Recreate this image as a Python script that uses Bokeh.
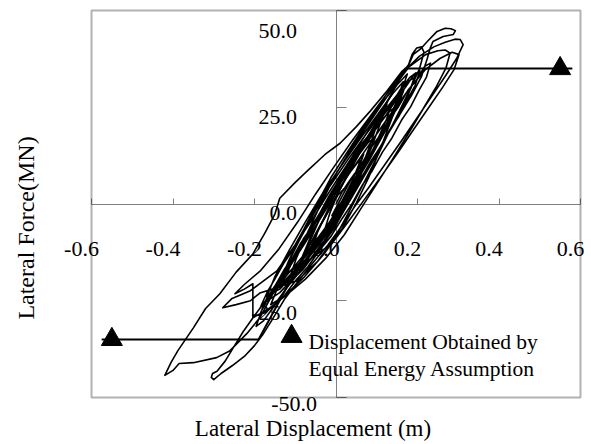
import math
from bokeh.plotting import figure
from bokeh.models import LinearAxis, FixedTicker, Range1d, Label, CustomJSTickFormatter, BoxAnnotation
from bokeh.embed import file_html
from bokeh.resources import INLINE

# Recorded pier response: lateral displacement (m) and lateral force (MN), in time order,
# split into consecutive parts of the history.
core_disp = [0.000, 0.015, 0.032, 0.046, 0.030, 0.010, -0.012, -0.030,
             -0.015, 0.004, 0.025, 0.052, 0.068, 0.050, 0.028, 0.004, -0.022, -0.048, -0.062,
             -0.045, -0.020, 0.008, 0.040, 0.075, 0.098, 0.080, 0.058, 0.033, 0.006, -0.030, -0.065, -0.090,
             -0.072, -0.046, -0.015, 0.020, 0.058, 0.095, 0.125, 0.108, 0.085, 0.058, 0.030, -0.004, -0.045, -0.085, -0.118,
             -0.098, -0.072, -0.040, -0.005, 0.035, 0.075, 0.115, 0.150, 0.175,
             0.158, 0.135, 0.108, 0.080, 0.050, 0.015, -0.030, -0.080, -0.125, -0.160]
core_force = [0.0, 3.1, 5.8, 7.9, 3.0, -1.2, -4.6, -7.4,
              -2.3, 2.6, 6.9, 10.6, 12.9, 7.4, 2.2, -2.8, -7.0, -10.9, -12.6,
              -7.2, -1.5, 4.8, 10.4, 16.1, 19.7, 14.2, 8.1, 1.9, -3.8, -9.6, -14.5, -17.2,
              -11.6, -5.3, 1.4, 8.6, 15.5, 21.6, 25.8, 20.6, 14.0, 6.7, 0.4, -6.2, -12.3, -17.0, -20.4,
              -14.2, -7.9, -0.6, 6.8, 13.9, 20.5, 26.4, 30.8, 33.6,
              28.2, 21.5, 14.0, 6.8, 0.3, -6.4, -13.0, -19.1, -23.6, -26.0]

build_disp = [-0.145, -0.128, -0.106, -0.085, -0.062, -0.040, -0.018, 0.006, 0.031, 0.058, 0.086, 0.112, 0.138, 0.160, 0.182, 0.196,
              0.185, 0.168, 0.146, 0.124, 0.101, 0.078, 0.052, 0.027, 0.003, -0.024, -0.052, -0.081, -0.110, -0.138, -0.162, -0.184,
              -0.168, -0.150, -0.127, -0.104, -0.079, -0.055, -0.030, -0.004, 0.022, 0.050, 0.077, 0.104, 0.130, 0.156, 0.178, 0.192,
              0.178, 0.158, 0.136, 0.112, 0.088, 0.064, 0.038, 0.013, -0.014, -0.042, -0.070, -0.098, -0.124, -0.146,
              -0.128, -0.106, -0.082, -0.058, -0.033, -0.008, 0.017, 0.043, 0.070, 0.097, 0.122, 0.146, 0.166,
              0.150, 0.129, 0.106, 0.082, 0.058, 0.033, 0.007, -0.020, -0.048, -0.075, -0.100, -0.121,
              -0.102, -0.078, -0.052, -0.026, 0.000, 0.026, 0.053, 0.080, 0.106, 0.128, 0.142,
              0.126, 0.104, 0.080, 0.055, 0.030, 0.004, -0.024, -0.052, -0.078, -0.104, -0.132, -0.160]
build_force = [-22.1, -18.9, -14.2, -10.6, -6.1, -2.4, 1.9, 6.0, 10.3, 14.6, 18.2, 22.5, 26.1, 29.9, 32.8, 33.9,
               30.2, 26.3, 21.8, 17.6, 12.9, 8.8, 4.1, -0.4, -4.8, -9.1, -12.8, -16.9, -19.8, -22.9, -24.6, -26.3,
               -22.6, -19.4, -15.1, -11.6, -7.2, -3.5, 0.9, 5.2, 9.3, 13.9, 17.4, 21.6, 25.6, 29.0, 31.8, 32.6,
               28.4, 24.1, 19.9, 15.2, 10.8, 6.9, 2.2, -2.1, -6.4, -10.6, -14.1, -17.8, -20.2, -21.9,
               -17.8, -13.9, -9.6, -5.6, -1.4, 2.9, 7.4, 11.5, 15.8, 19.7, 23.9, 27.2, 29.3,
               25.1, 20.4, 16.0, 11.4, 7.2, 2.8, -1.8, -6.0, -10.4, -13.6, -16.4, -18.0,
               -13.8, -9.3, -4.8, -0.4, 4.2, 8.6, 13.1, 17.0, 20.9, 23.6, 24.8,
               20.6, 16.2, 11.6, 7.0, 2.5, -2.0, -6.6, -10.5, -13.9, -17.4, -20.4, -23.5]

mid_disp = [-0.140, -0.115, -0.085, -0.050, -0.012, 0.030, 0.070, 0.110, 0.150, 0.178, 0.187, 0.198, 0.210, 0.216,
            0.205, 0.185, 0.160, 0.130, 0.100, 0.068, 0.035, -0.002, -0.045, -0.095, -0.150, -0.187, -0.210, -0.245, -0.278,
            -0.255, -0.210, -0.145, -0.100, -0.060, -0.020, 0.020, 0.060, 0.100, 0.140, 0.180, 0.220, 0.250, 0.268, 0.280,
            0.270, 0.245, 0.215, 0.180, 0.140, 0.100, 0.060, 0.020, -0.025, -0.075, -0.125, -0.170, -0.204,
            -0.204, -0.204, -0.225, -0.248,
            -0.225, -0.185, -0.140, -0.095, -0.050, -0.005, 0.040, 0.085, 0.130, 0.170, 0.205, 0.240, 0.268, 0.292, 0.305, 0.312]
mid_force = [-20.6, -14.4, -7.8, -0.6, 6.9, 13.8, 20.2, 26.3, 32.2, 36.0, 38.7, 40.3, 40.6, 39.2,
             35.0, 30.4, 25.0, 18.6, 12.0, 5.4, -1.4, -8.6, -14.8, -19.8, -21.8, -23.0, -25.0, -26.0, -26.8,
             -24.4, -22.4, -17.3, -10.5, -3.0, 4.4, 11.2, 17.6, 23.8, 30.0, 35.5, 38.6, 39.6, 39.8, 39.0,
             35.2, 30.1, 24.8, 18.6, 11.8, 5.2, -1.4, -8.0, -14.0, -19.4, -23.8, -27.4, -29.4,
             -25.0, -20.6, -22.0, -23.2,
             -20.8, -17.2, -11.6, -4.8, 2.6, 9.6, 16.4, 22.8, 29.2, 34.6, 38.2, 40.6, 41.8, 42.6, 42.5, 41.2]

peak_disp = [0.296, 0.268, 0.236, 0.200, 0.160, 0.120, 0.080, 0.045, 0.012, -0.020, -0.055, -0.090, -0.125, -0.155,
             -0.180, -0.200, -0.225, -0.255, -0.282, -0.300, -0.306, -0.303, -0.292,
             -0.272, -0.250, -0.228, -0.205, -0.180, -0.150, -0.115, -0.078, -0.040, 0.000, 0.045, 0.090, 0.135,
             0.180, 0.220, 0.255, 0.285, 0.302,
             0.290, 0.262, 0.228, 0.190, 0.150, 0.110, 0.070, 0.030, -0.010, -0.060, -0.113, -0.155, -0.187, -0.219,
             -0.260, -0.293, -0.350, -0.385, -0.400, -0.420,
             -0.405, -0.388, -0.350, -0.320, -0.285, -0.245, -0.204, -0.175, -0.150, -0.138, -0.100, -0.071, -0.027,
             0.010, 0.050, 0.084, 0.125, 0.162, 0.177, 0.190, 0.207, 0.224, 0.248, 0.268, 0.282, 0.293,
             0.288, 0.263, 0.238, 0.231, 0.224]
peak_force = [37.6, 33.0, 28.0, 22.4, 16.2, 10.2, 4.2, -0.8, -6.0, -10.6, -15.0, -19.6, -24.4, -29.6,
              -33.8, -36.6, -39.4, -41.8, -43.8, -45.4, -44.8, -43.8, -43.2,
              -40.6, -36.8, -33.0, -29.6, -26.0, -21.6, -16.4, -10.4, -4.0, 2.8, 9.8, 16.6, 23.4,
              29.8, 34.8, 37.6, 39.2, 38.6,
              34.8, 30.2, 25.0, 19.2, 13.0, 7.0, 1.2, -4.6, -10.2, -14.0, -17.3, -23.2, -29.4, -33.5,
              -37.9, -39.7, -41.0, -41.2, -43.0, -44.3,
              -41.0, -37.9, -32.0, -27.0, -23.2, -17.6, -12.9, -7.6, -2.6, 1.5, 5.6, 8.5, 12.8,
              15.7, 20.0, 24.0, 29.2, 34.3, 35.6, 38.7, 40.0, 42.0, 44.6, 45.4, 45.3, 44.8,
              43.8, 43.3, 42.0, 40.2, 37.6]

tail_disp = [0.210, 0.185, 0.150, 0.110, 0.070, 0.030, -0.010, -0.055, -0.100, -0.140, -0.170,
             -0.150, -0.115, -0.075, -0.035, 0.010, 0.055, 0.100, 0.140, 0.165,
             0.150, 0.125, 0.095, 0.060, 0.025, -0.015, -0.060, -0.105, -0.140,
             -0.120, -0.090, -0.055, -0.015, 0.030, 0.075, 0.115, 0.140,
             0.122, 0.095, 0.062, 0.028, -0.010, -0.050, -0.085,
             -0.062, -0.030, 0.005, 0.040, 0.060, 0.040, 0.015, -0.010]
tail_force = [33.0, 28.0, 22.0, 15.0, 8.2, 1.6, -4.6, -10.2, -15.8, -20.8, -24.0,
              -18.8, -12.0, -4.6, 2.4, 9.4, 16.2, 22.8, 28.6, 31.6,
              26.8, 21.0, 14.4, 7.6, 1.0, -5.8, -12.4, -18.2, -21.6,
              -15.8, -9.4, -2.6, 4.6, 11.6, 18.2, 23.8, 26.6,
              21.4, 15.0, 8.0, 1.6, -4.8, -10.4, -14.2,
              -8.4, -1.6, 4.8, 9.6, 11.2, 6.0, 0.8, -3.0]

late_disp = [0.012, 0.036, 0.058, 0.083, 0.104, 0.129, 0.152, 0.176, 0.198, 0.218, 0.232,
             0.222, 0.204, 0.183, 0.161, 0.137, 0.114, 0.089, 0.066, 0.040, 0.016, -0.012, -0.040, -0.069, -0.097,
             -0.126, -0.152, -0.178, -0.196,
             -0.182, -0.166, -0.144, -0.123, -0.098, -0.076, -0.050, -0.027, -0.002, 0.022, 0.048, 0.072, 0.098,
             0.122, 0.148, 0.170, 0.190, 0.206,
             0.194, 0.176, 0.154, 0.132, 0.108, 0.085, 0.060, 0.036, 0.010, -0.015, -0.043, -0.070, -0.098,
             -0.124, -0.150, -0.172, -0.186,
             -0.170, -0.150, -0.126, -0.104, -0.080, -0.057, -0.032, -0.008, 0.017, 0.040, 0.066, 0.090, 0.115,
             0.136, 0.152,
             0.136, 0.114, 0.090, 0.066, 0.040, 0.016, -0.010, -0.036, -0.064, -0.090, -0.116, -0.138, -0.150,
             -0.132, -0.110, -0.086, -0.062, -0.036, -0.012, 0.014, 0.037, 0.060, 0.080, 0.094,
             0.078, 0.056, 0.032, 0.008, -0.018, -0.042, -0.060, -0.040, -0.018, 0.004, 0.020]
late_force = [1.4, 6.2, 9.4, 14.1, 17.2, 21.6, 24.9, 29.3, 32.1, 35.6, 36.4,
              32.8, 29.4, 25.1, 21.7, 17.0, 13.4, 8.6, 5.1, 0.2, -3.6, -8.3, -11.9, -16.2, -19.5,
              -23.6, -26.4, -30.2, -31.6,
              -27.4, -24.5, -20.2, -17.1, -12.6, -9.4, -4.8, -1.3, 3.4, 7.1, 11.6, 15.0, 19.4,
              22.8, 27.0, 30.1, 33.2, 34.4,
              30.6, 27.1, 22.6, 19.2, 14.6, 11.0, 6.3, 2.6, -2.2, -5.9, -10.6, -14.3, -18.7,
              -22.1, -25.9, -28.0, -28.4,
              -24.4, -21.2, -16.8, -13.5, -9.0, -5.6, -1.0, 2.6, 7.2, 10.8, 15.2, 18.6, 22.8,
              25.6, 27.0,
              22.6, 18.4, 13.6, 9.8, 4.8, 1.0, -3.8, -7.6, -12.0, -15.4, -19.6, -22.0, -22.6,
              -18.0, -14.6, -10.0, -6.6, -2.0, 1.6, 6.2, 9.6, 13.4, 16.0, 17.0,
              12.6, 8.2, 3.6, -0.6, -5.0, -8.4, -10.6, -6.0, -1.8, 2.2, 4.0]

# Idealised elastic-perfectly-plastic curve and equal-energy displacement demands
ideal_disp = [-0.575, -0.19, 0.17, 0.58]
ideal_force = [-35.0, -35.0, 35.0, 35.0]
demand_disp = [-0.55, 0.55]
demand_force = [-35.0, 35.0]

x_ticks = [-0.6, -0.4, -0.2, 0.0, 0.2, 0.4, 0.6]
x_tick_labels = ["-0.6", "-0.4", "-0.2", "0.0", "0.2", "0.4", "0.6"]
y_ticks = [50.0, 25.0, 0.0, -25.0, -50.0]
y_tick_labels = ["50.0", "25.0", "0.0", "-25.0", "-50.0"]

FONT = "Liberation Serif"
GREY = "#808080"
W, H = 591, 444

# Plot box (pixels from the top-left corner) and the axis limits it spans.
# The canvas-wide frame lets the labels sit outside the box without clipping.
BOX_L, BOX_R, BOX_T, BOX_B = 91, 580, 10, 397
X_LIM = (-0.6, 0.6)
Y_LIM = (-50.0, 50.0)
kx = (BOX_R - BOX_L) / (X_LIM[1] - X_LIM[0])
ky = (BOX_B - BOX_T) / (Y_LIM[1] - Y_LIM[0])
x_range = Range1d(X_LIM[0] - BOX_L / kx, X_LIM[1] + (W - BOX_R) / kx)
y_range = Range1d(Y_LIM[0] - (H - BOX_B) / ky, Y_LIM[1] + BOX_T / ky)

p = figure(width=W, height=H, x_range=x_range, y_range=y_range,
           output_backend="svg", toolbar_location=None,
           x_axis_location=None, y_axis_location=None,
           min_border=0, background_fill_color="white", border_fill_color="white")
p.outline_line_color = None
p.grid.visible = False

p.add_layout(BoxAnnotation(left=X_LIM[0], right=X_LIM[1], bottom=Y_LIM[0], top=Y_LIM[1],
                           fill_color=None, line_color="black", line_width=2))

blank = CustomJSTickFormatter(code="return ''")

# Axes crossing at the origin
x_zero = LinearAxis(fixed_location=0, bounds=X_LIM, ticker=FixedTicker(ticks=x_ticks), formatter=blank,
                    axis_line_color=GREY, major_tick_line_color=GREY,
                    major_tick_in=6, major_tick_out=0, minor_tick_line_color=None,
                    level="underlay")
y_zero = LinearAxis(fixed_location=0, bounds=Y_LIM, ticker=FixedTicker(ticks=y_ticks), formatter=blank,
                    axis_line_color=GREY, major_tick_line_color=GREY,
                    major_tick_in=10, major_tick_out=0, minor_tick_line_color=None,
                    level="underlay")
p.add_layout(x_zero, "below")
p.add_layout(y_zero, "left")

# Tick labels, set off from the axes
for t, s in zip(x_ticks, x_tick_labels):
    p.add_layout(Label(x=t, y=0, text=s, x_offset=-10, y_offset=-45,
                       text_align="center", text_baseline="middle",
                       text_font=FONT, text_font_size="22px", text_color="black",
                       level="underlay"))
y_label_shift = {50.0: (-39, -20), 25.0: (-39, -10), 0.0: (-39, -9),
                 -25.0: (-39, -12), -50.0: (-19, -6)}
for t, s in zip(y_ticks, y_tick_labels):
    dx, dy = y_label_shift[t]
    p.add_layout(Label(x=0, y=t, text=s, x_offset=dx, y_offset=dy,
                       text_align="right", text_baseline="middle",
                       text_font=FONT, text_font_size="22px", text_color="black",
                       level="underlay"))

# Hysteresis loops
disp = core_disp + build_disp + mid_disp + peak_disp + tail_disp + late_disp
force = core_force + build_force + mid_force + peak_force + tail_force + late_force
p.line(disp, force, line_color="black", line_width=1.6, line_join="round")

# Bilinear idealisation and demand markers
p.line(ideal_disp, ideal_force, line_color="black", line_width=2)
p.scatter(demand_disp, demand_force, marker="triangle", size=21, color="black")

# Key for the triangle markers
p.scatter([-0.109], [-34.2], marker="triangle", size=21, color="black")
p.add_layout(Label(x=-0.109, y=-34.2, text="Displacement Obtained by", x_offset=17, y_offset=-6,
                   text_align="left", text_baseline="middle",
                   text_font=FONT, text_font_size="21.5px", text_color="black"))
p.add_layout(Label(x=-0.109, y=-34.2, text="Equal Energy Assumption", x_offset=17, y_offset=-33,
                   text_align="left", text_baseline="middle",
                   text_font=FONT, text_font_size="21.5px", text_color="black"))

# Axis titles
p.add_layout(Label(x=0, y=Y_LIM[0], text="Lateral Displacement (m)", x_offset=-23, y_offset=-31,
                   text_align="center", text_baseline="middle",
                   text_font=FONT, text_font_size="23px", text_color="black"))
p.add_layout(Label(x=X_LIM[0], y=0, text="Lateral Force(MN)", x_offset=-66, y_offset=-24,
                   angle=math.pi / 2, text_align="center", text_baseline="middle",
                   text_font=FONT, text_font_size="24px", text_color="black"))

open("out.html", "w").write(file_html(p, INLINE))
